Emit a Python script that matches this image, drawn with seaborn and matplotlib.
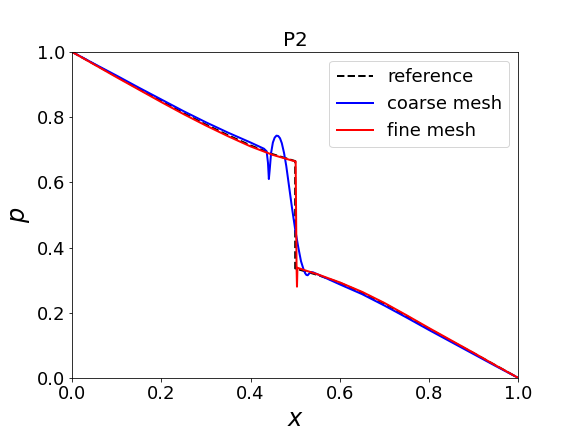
import numpy as np
import matplotlib
matplotlib.use('Agg')
import matplotlib.pyplot as plt
import seaborn as sns

# reference solution (jump at x = 0.5)
ref_x = [0.0, 0.05, 0.1, 0.15, 0.2, 0.25, 0.3, 0.35, 0.4, 0.45, 0.5,
         0.5, 0.55, 0.6, 0.65, 0.7, 0.75, 0.8, 0.85, 0.9, 0.95, 1.0]
ref_p = [1.0, 0.962, 0.924, 0.886, 0.849, 0.812, 0.777, 0.744, 0.713, 0.686, 0.665,
         0.336, 0.316, 0.292, 0.262, 0.228, 0.190, 0.151, 0.113, 0.076, 0.038, 0.0]

# coarse mesh
coarse_x = [0.0, 0.05, 0.1, 0.15, 0.2, 0.25, 0.3, 0.35, 0.4, 0.43, 0.436,
            0.439, 0.441, 0.443, 0.446, 0.45, 0.454, 0.458, 0.462, 0.466,
            0.47, 0.475, 0.48, 0.486, 0.493, 0.5, 0.507, 0.513, 0.518,
            0.522, 0.525, 0.528, 0.531, 0.535, 0.54, 0.55,
            0.6, 0.65, 0.7, 0.75, 0.8, 0.85, 0.9, 0.95, 1.0]
coarse_p = [1.0, 0.963, 0.927, 0.890, 0.854, 0.818, 0.784, 0.752, 0.722, 0.703, 0.695,
            0.660, 0.610, 0.640, 0.690, 0.722, 0.737, 0.743, 0.742, 0.735,
            0.720, 0.690, 0.650, 0.590, 0.520, 0.455, 0.400, 0.358, 0.336,
            0.322, 0.316, 0.315, 0.320, 0.325, 0.324, 0.318,
            0.287, 0.257, 0.222, 0.185, 0.147, 0.110, 0.073, 0.036, 0.0]

# fine mesh
fine_x = [0.0, 0.05, 0.1, 0.15, 0.2, 0.25, 0.3, 0.35, 0.4, 0.45, 0.49, 0.501,
          0.503, 0.504, 0.505, 0.52, 0.55, 0.6, 0.65, 0.7, 0.75, 0.8, 0.85,
          0.9, 0.95, 1.0]
fine_p = [1.0, 0.961, 0.922, 0.884, 0.846, 0.809, 0.774, 0.741, 0.710, 0.684, 0.668, 0.664,
          0.345, 0.280, 0.338, 0.331, 0.318, 0.293, 0.264, 0.230, 0.192, 0.153, 0.115,
          0.077, 0.038, 0.0]

plt.style.use('default')
fig, ax = plt.subplots(figsize=(8, 6), dpi=72)
fig.subplots_adjust(left=0.125, right=0.9, top=0.88, bottom=0.125)

sns.lineplot(x=ref_x, y=ref_p, sort=False, estimator=None, ax=ax,
             color='black', linestyle='--', linewidth=2, label='reference')
sns.lineplot(x=coarse_x, y=coarse_p, sort=False, estimator=None, ax=ax,
             color='blue', linewidth=2, label='coarse mesh')
sns.lineplot(x=fine_x, y=fine_p, sort=False, estimator=None, ax=ax,
             color='red', linewidth=2, label='fine mesh')

ax.set_xlim(0, 1)
ax.set_ylim(0, 1)
ax.set_title('P2', fontsize=20)
ax.set_xlabel('$x$', fontsize=24)
ax.set_ylabel('$p$', fontsize=24)
ax.tick_params(labelsize=18)
ax.legend(loc='upper right', fontsize=18)

plt.savefig('out.png', dpi=72)
plt.close()
